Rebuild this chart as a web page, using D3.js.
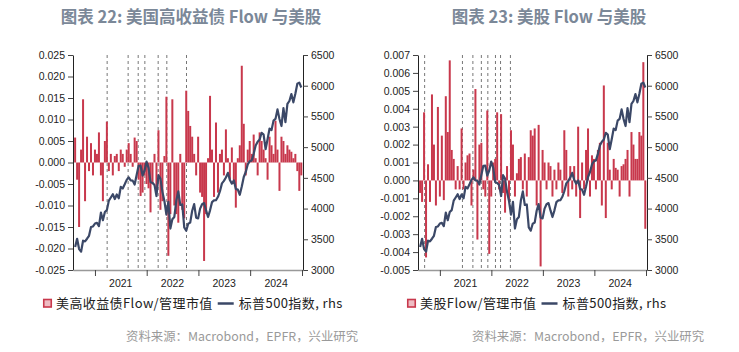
<!DOCTYPE html>
<html>
<head>
<meta charset="utf-8">
<script src="https://cdn.jsdelivr.net/npm/d3@7"></script>
<style>
  body { margin: 0; background: #fff; }
  svg { display: block; }
</style>
</head>
<body>
<div id="chart"></div>
<script>
// biweekly observations, first one on this date
const startDate = '2020-08-14'

// S&P 500 (rhs), shared by both panels
const spx = [
  3373, 3508, 3341, 3298, 3477, 3465, 3509, 3557, 3699, 3709,
  3756, 3768, 3714, 3934, 3811, 3943, 3975, 4129, 4180, 4233, 4156, 4230, 4166, 4352,
  4327, 4395, 4468, 4509, 4459, 4455, 4391, 4545, 4697, 4698, 4538, 4620, 4766,
  4663, 4432, 4418, 4385, 4204, 4543, 4488, 4272, 4123, 3901, 4109, 3675, 3825,
  3863, 4130, 4280, 4058, 4067, 3693, 3640, 3753, 3771, 3965, 4072, 3852, 3840,
  3999, 4071, 4090, 3970, 3862, 3971, 4105, 4133, 4136, 4192, 4282, 4410, 4450,
  4505, 4582, 4464, 4406, 4457, 4320, 4308, 4224, 4358, 4514, 4595, 4719, 4770,
  4784, 4891, 5027, 5089, 5124, 5234, 5204, 4967, 5128, 5303, 5278, 5432, 5460,
  5615, 5459, 5344, 5634, 5408, 5703, 5751, 5864, 5729, 5870, 6032, 6051, 5971
]

// 美高收益债 Flow / 管理市值
const hyFlow = [
  0.0058, -0.004, -0.015, 0.003, 0.0147, -0.009, 0.006, -0.002, 0.0045, -0.003,
  0.003, 0.002, 0.007, -0.003, -0.009, 0.005, 0.0095, -0.002, 0.002, -0.003,
  0.0015, 0.002, -0.002, 0.003, 0.002, -0.001, 0.003, 0.0045, 0.002, -0.001,
  0.0058, 0.005, -0.004, -0.0078, -0.007, -0.003, -0.005, -0.006, -0.0116, -0.005,
  0.002, -0.006, 0.0075, -0.011, -0.009, 0.0015, 0.0153, -0.0217, -0.012, 0.0147,
  -0.010, -0.012, -0.014, 0.002, -0.011, -0.013, 0.0167, 0.012, 0.0085, 0.006,
  0.002, -0.003, 0.006, -0.007, -0.008, -0.0229, -0.012, 0.001, 0.0155, 0.003,
  -0.008, 0.0093, -0.007, 0.002, 0.003, -0.003, 0.0077, 0.001, -0.004, 0.0035,
  -0.005, -0.0105, 0.001, 0.004, 0.0225, 0.009, -0.003, 0.003, 0.005, 0.002,
  0.0065, 0.001, -0.003, 0.007, 0.005, 0.003, 0.001, -0.004, 0.006, 0.004,
  0.002, 0.0097, 0.003, -0.0066, 0.006, 0.005, 0.002, 0.004, 0.003, 0.0025,
  0.001, 0.002, -0.002, -0.0066, -0.003
]

// 美股 Flow / 管理市值
const eqFlow = [
  -0.0007, -0.0012, 0.0038, -0.0043, 0.0009, -0.0012, 0.0048, 0.002, -0.0014, 0.0041,
  -0.0009, 0.0025, -0.0011, 0.0047, 0.0027, 0.0067, 0.0017, 0.0012, -0.0005, 0.0008,
  -0.0005, 0.0029, -0.0005, 0.001, 0.0014, 0.0015, -0.0014, 0.0006, 0.0051, -0.0033,
  0.002, 0.0021, -0.0005, -0.0009, 0.0039, -0.0041, -0.0009, 0.001, 0.0012, 0.0038,
  -0.0005, 0.0037, -0.0007, -0.0018, 0.0008, -0.0012, 0.0028, 0.002, -0.0009, 0.0004,
  0.0012, 0.0013, -0.0005, 0.0015, -0.0009, 0.0013, 0.0028, 0.0025, 0.0029, -0.0014,
  0.0031, -0.0048, 0.0017, 0.001, -0.0005, 0.001, 0.0008, -0.0009, 0.0006, -0.0005,
  0.001, 0.0006, -0.0007, 0.0028, 0.0017, -0.0009, 0.0008, -0.0005, 0.0008, -0.0009,
  0.003, -0.0021, 0.001, -0.0005, 0.0017, 0.0029, -0.0009, 0.0014, 0.0012, -0.0005,
  0.0017, 0.0021, -0.0014, 0.0053, -0.0021, 0.0021, 0.0006, -0.0005, 0.0012, 0.0007,
  0.0006, -0.0009, 0.0008, 0.0009, 0.0012, 0.0017, -0.0009, 0.0027, 0.002, 0.0012,
  0.0012, 0.0027, 0.0025, 0.0066, -0.0027
]

// dashed event markers
const hyEvents = ['2021-03-28', '2021-08-23', '2021-11-02', '2021-12-19', '2022-03-23', '2022-05-23', '2022-10-09']
const eqEvents = ['2020-09-15', '2021-06-10', '2021-08-23', '2021-10-22', '2021-12-07', '2022-01-30', '2022-03-07', '2022-05-16']

const yearLabels = ['2021', '2022', '2023', '2024']
const yearTicks = ['2021-01-01', '2022-01-01', '2023-01-01', '2024-01-01', '2025-01-01']
const hyTicks = [-0.025, -0.02, -0.015, -0.01, -0.005, 0, 0.005, 0.01, 0.015, 0.02, 0.025]
const eqTicks = [-0.005, -0.004, -0.003, -0.002, -0.001, 0, 0.001, 0.002, 0.003, 0.004, 0.005, 0.006, 0.007]
const spxTicks = [3000, 3500, 4000, 4500, 5000, 5500, 6000, 6500]

const parse = d3.timeParse('%Y-%m-%d')
const dates = spx.map((d, i) => d3.timeWeek.offset(parse(startDate), i * 2))

const width = 739
const height = 352
const plotTop = 55
const plotBottom = 270
const barColour = '#c8384c'
const lineColour = '#3b4867'
const tickFont = '"Liberation Sans", Arial, sans-serif'
const cjkFont = '"Noto Sans CJK SC", sans-serif'

const svg = d3.select('#chart')
  .append('svg')
  .attr('width', width)
  .attr('height', height)
  .style('background', '#fff')

function drawPanel(cfg) {
  const g = svg.append('g')

  const x = d3.scaleTime()
    .domain([parse('2020-07-30'), parse('2025-01-08')])
    .range([cfg.left, cfg.right])
  const y = d3.scaleLinear().domain(cfg.domain).range([plotBottom, plotTop])
  const y2 = d3.scaleLinear().domain([3000, 6500]).range([plotBottom, plotTop])

  // title
  g.append('text')
    .attr('x', cfg.titleX)
    .attr('y', 23)
    .attr('text-anchor', 'middle')
    .style('font-family', cjkFont)
    .style('font-weight', 'bold')
    .style('font-size', '16.5px')
    .style('fill', '#7b8898')
    .text(cfg.title)

  // event lines
  g.append('g')
    .selectAll('line')
    .data(cfg.events)
    .enter()
    .append('line')
    .attr('x1', d => x(parse(d)))
    .attr('x2', d => x(parse(d)))
    .attr('y1', plotTop)
    .attr('y2', plotBottom)
    .style('stroke', '#777')
    .style('stroke-width', 1)
    .style('stroke-dasharray', '3,3')

  // bars
  g.append('g')
    .selectAll('rect')
    .data(cfg.flow)
    .enter()
    .append('rect')
    .attr('x', (d, i) => x(dates[i]) - 1)
    .attr('width', 2)
    .attr('y', d => Math.min(y(d), y(0)))
    .attr('height', d => Math.abs(y(d) - y(0)))
    .style('fill', barColour)

  // S&P line
  const line = d3.line()
    .x((d, i) => x(dates[i]))
    .y(d => y2(d))
  g.append('path')
    .datum(spx)
    .attr('d', line)
    .style('fill', 'none')
    .style('stroke', lineColour)
    .style('stroke-width', 2.2)
    .style('stroke-linejoin', 'round')

  // axes
  const leftAxis = g.append('g')
    .attr('transform', `translate(${cfg.left}, 0)`)
    .call(d3.axisLeft(y).tickValues(cfg.ticks).tickFormat(d => d.toFixed(3)).tickSize(5).tickSizeOuter(0))
  const rightAxis = g.append('g')
    .attr('transform', `translate(${cfg.right}, 0)`)
    .call(d3.axisRight(y2).tickValues(spxTicks).tickFormat(d => d).tickSize(5).tickSizeOuter(0))
  const xAxis = g.append('g')
    .attr('transform', `translate(0, ${plotBottom})`)
    .call(d3.axisBottom(x).tickValues(yearTicks.map(parse)).tickFormat('').tickSize(6).tickSizeOuter(0))

  for (const ax of [leftAxis, rightAxis]) {
    ax.select('.domain').style('stroke', '#222')
    ax.selectAll('.tick line').style('stroke', '#444')
    ax.selectAll('text')
      .style('font-family', tickFont)
      .style('font-size', '10.5px')
      .style('fill', '#222')
  }
  xAxis.select('.domain').style('stroke', '#999').style('stroke-width', 1.6)
  xAxis.selectAll('.tick line').style('stroke', '#444')

  g.append('g')
    .selectAll('text')
    .data(yearLabels)
    .enter()
    .append('text')
    .attr('x', d => x(parse(d + '-07-02')))
    .attr('y', 287)
    .attr('text-anchor', 'middle')
    .style('font-family', tickFont)
    .style('font-size', '10.5px')
    .style('fill', '#222')
    .text(d => d)

  // legend
  const lg = g.append('g').attr('transform', `translate(${cfg.legendX}, 303)`)
  lg.append('rect')
    .attr('x', 0.75)
    .attr('y', -3.5)
    .attr('width', 7.5)
    .attr('height', 7.5)
    .style('fill', '#eebcc3')
    .style('stroke', barColour)
    .style('stroke-width', 1.6)
  const t1 = lg.append('text')
    .attr('x', 13)
    .attr('y', 4.5)
    .style('font-family', cjkFont)
    .style('font-size', '13px')
    .style('letter-spacing', '0.4px')
    .style('fill', '#222')
    .text(cfg.legendText)
  const w1 = t1.node().getComputedTextLength()
  lg.append('line')
    .attr('x1', 13 + w1 + 5)
    .attr('x2', 13 + w1 + 21)
    .attr('y1', 0.5)
    .attr('y2', 0.5)
    .style('stroke', lineColour)
    .style('stroke-width', 2.5)
  lg.append('text')
    .attr('x', 13 + w1 + 26)
    .attr('y', 4.5)
    .style('font-family', cjkFont)
    .style('font-size', '13px')
    .style('letter-spacing', '0.4px')
    .style('fill', '#222')
    .text('标普500指数, rhs')

  // source
  g.append('text')
    .attr('x', cfg.sourceX)
    .attr('y', 341)
    .style('font-family', cjkFont)
    .style('font-size', '12.4px')
    .style('fill', '#9a9a9a')
    .text('资料来源：Macrobond，EPFR，兴业研究')
}

drawPanel({
  left: 73, right: 303, titleX: 191,
  title: '图表 22: 美国高收益债 Flow 与美股',
  domain: [-0.025, 0.025], ticks: hyTicks, flow: hyFlow, events: hyEvents,
  legendX: 43, legendText: '美高收益债Flow/管理市值', sourceX: 126
})

drawPanel({
  left: 418, right: 647, titleX: 549,
  title: '图表 23: 美股 Flow 与美股',
  domain: [-0.005, 0.007], ticks: eqTicks, flow: eqFlow, events: eqEvents,
  legendX: 407, legendText: '美股Flow/管理市值', sourceX: 472
})
</script>
</body>
</html>
